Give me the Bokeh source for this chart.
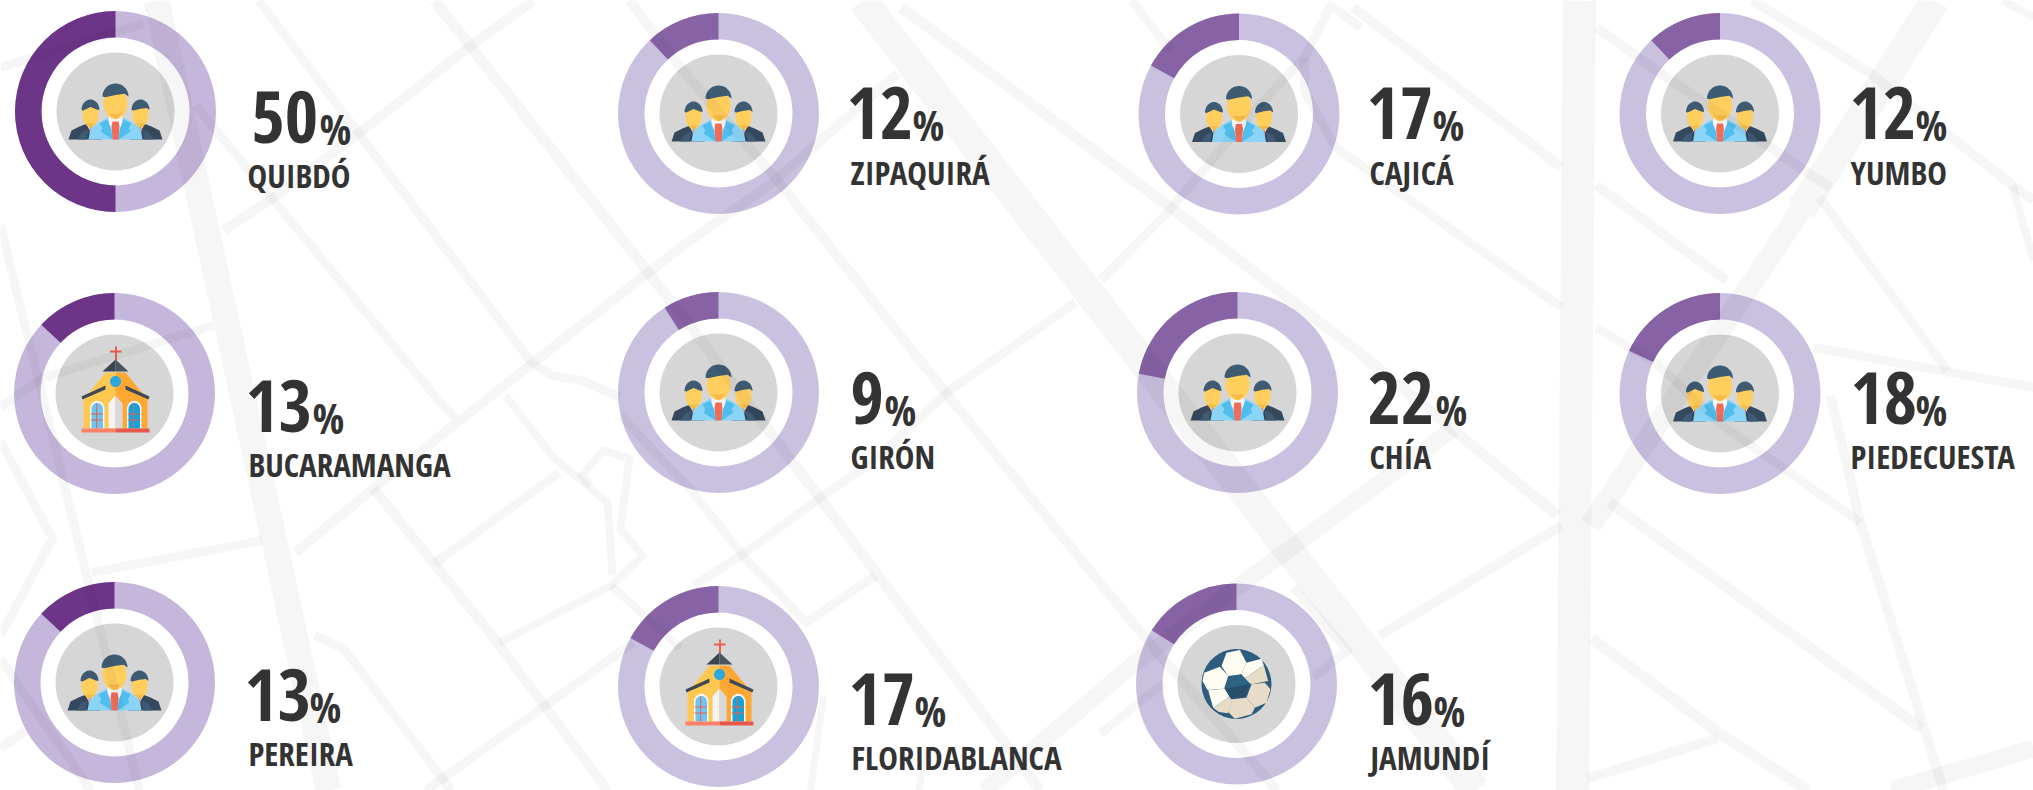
import numpy as np
from bokeh.plotting import figure
from bokeh.models import Range1d, ColumnDataSource
from bokeh.core.properties import value
from bokeh.embed import file_html
from bokeh.resources import INLINE

# ---------- chart values ----------
cities = ["QUIBDÓ", "ZIPAQUIRÁ", "CAJICÁ", "YUMBO", "BUCARAMANGA", "GIRÓN", "CHÍA",
          "PIEDECUESTA", "PEREIRA", "FLORIDABLANCA", "JAMUNDÍ"]
shares = [50, 12, 17, 12, 13, 9, 22, 18, 13, 17, 16]
icons = ["people", "people", "people", "people", "church", "people", "people",
         "people", "people", "church", "ball"]

# ---------- layout (page pixels) ----------
centers_x = [115, 718, 1238.5, 1719.5, 114, 718, 1237, 1719.5, 114, 718, 1236]
centers_y = [111, 113, 113.5, 113, 393, 392, 392, 393, 682, 686, 683.5]
num_x = [251, 846, 1366, 1849, 245, 850, 1367, 1850, 244, 848, 1367]
num_base = [144, 140, 140, 140, 433, 425, 425, 425, 722, 726, 726]
pct_x = [319, 912, 1432, 1915, 312, 884, 1435, 1915, 309, 914, 1433]
label_x = [247, 850, 1369, 1850, 248, 850, 1369, 1850, 248, 851, 1370]
label_base = [188, 185, 185, 185, 477, 469, 469, 469, 766, 770, 770]
dark = ["#6C3587" if x < 200 else "#8763A5" for x in centers_x]
light = ["#C5B6DB" if x < 200 else "#CAC0E0" for x in centers_x]

R_OUT, R_IN, R_GRAY = 100.5, 74, 59
W, H = 2033, 790
FONT = "Open Sans Condensed"
INK = "#333333"
BASE_SHIFT = 0.38  # the svg text sits this many ems below the requested baseline
NUM_SIZE, PCT_SIZE, LABEL_SIZE = 72, 42, 33


def Y(y):
    return H - np.asarray(y, dtype=float)


p = figure(width=W, height=H, output_backend="svg", toolbar_location=None,
           x_range=Range1d(0, W), y_range=Range1d(0, H),
           x_axis_type=None, y_axis_type=None, min_border=0, outline_line_color=None,
           background_fill_color="white", border_fill_color="white")
p.grid.visible = False

# ---------- donuts ----------
src = ColumnDataSource(dict(
    x=centers_x, y=list(Y(centers_y)),
    start=[np.pi / 2] * len(shares),
    end=[np.pi / 2 + 2 * np.pi * s / 100 for s in shares],
    dark=dark, light=light))
p.annulus(x="x", y="y", inner_radius=R_IN, outer_radius=R_OUT, fill_color="light",
          line_color=None, source=src)
p.annular_wedge(x="x", y="y", inner_radius=R_IN, outer_radius=R_OUT, start_angle="start",
                end_angle="end", fill_color="dark", line_color=None, source=src)
p.circle(x="x", y="y", radius=R_GRAY, fill_color="#D6D6D6", line_color=None, source=src)

# ---------- icons (decoration, offsets from each donut centre) ----------
shapes = []


def poly(cx, cy, pts, color):
    shapes.append(([cx + a for a, b in pts], [H - (cy + b) for a, b in pts], color))


def ell(cx, cy, ex, ey, rx, ry, color):
    t = np.linspace(0, 2 * np.pi, 40)[:-1]
    poly(cx, cy, list(zip(ex + rx * np.cos(t), ey + ry * np.sin(t))), color)


def cap(cx, cy, ex, ey, rx, ry, tilt, color):
    t = np.linspace(np.pi, np.pi * 2, 20)
    pts = [(ex + rx * np.cos(a), ey + ry * np.sin(a)) for a in t]
    pts += [(ex + rx * 0.7, ey - ry * .12 - tilt), (ex, ey - ry * .2 + tilt), (ex - rx * 0.8, ey + ry * .05)]
    poly(cx, cy, pts, color)


def arch(x0, x1, top, bot):
    m = (x0 + x1) / 2
    r = (x1 - x0) / 2
    t = np.linspace(np.pi, 0, 14)
    return [(x0, bot)] + [(m + r * np.cos(a), top + r - r * 1.1 * np.sin(a)) for a in t] + [(x1, bot)]


def person_side(cx, cy, s):
    poly(cx, cy, [(s * 47, 28), (s * 44, 19), (s * 36, 15), (s * 26, 11), (s * 18, 14), (s * 14, 28)], "#34495E")
    poly(cx, cy, [(s * 38, 28), (s * 34, 21), (s * 27, 18), (s * 29, 28)], "#405A73")
    poly(cx, cy, [(s * 30, 11), (s * 21, 11), (s * 18, 24), (s * 23, 24)], "#F4F4F4")
    poly(cx, cy, [(s * 26, 14), (s * 23, 15), (s * 24, 25), (s * 26, 20)], "#EF6C58")
    ell(cx, cy, s * 25, 3, 8, 12.5, "#FFCE5C")
    poly(cx, cy, [(s * 20, 12), (s * 30, 12), (s * 25, 17)], "#F5B945")
    cap(cx, cy, s * 25, -1.5, 9, 10.5, 0.8 * s, "#3F5B72")


def people(cx, cy):
    person_side(cx, cy, -1)
    person_side(cx, cy, 1)
    poly(cx, cy, [(-27, 28), (-25, 17), (-17, 11), (-8, 6), (8, 6), (17, 11), (25, 17), (27, 28)], "#8AD4F7")
    poly(cx, cy, [(-7, 4), (7, 4), (7, 20), (0, 27), (-7, 20)], "#F5F5F5")
    poly(cx, cy, [(8, 8), (16, 12), (13, 17), (15, 20), (3, 28), (4, 18)], "#4FBDEE")
    poly(cx, cy, [(-8, 8), (-16, 12), (-13, 17), (-15, 20), (-3, 28), (-4, 18)], "#4FBDEE")
    poly(cx, cy, [(-3, 10), (3, 10), (4, 15), (3, 28), (-3, 28), (-4, 15)], "#EF6C58")
    ell(cx, cy, 0, -8, 12, 15.5, "#FFCE5C")
    poly(cx, cy, [(-7, 2), (7, 2), (0, 8)], "#F5B945")
    cap(cx, cy, 0, -15, 13, 13, 1.2, "#3F5B72")


def church(cx, cy):
    red = "#E8604C"
    poly(cx, cy, [(0.5, -47), (2.5, -47), (2.5, -33), (0.5, -33)], red)
    poly(cx, cy, [(-4.5, -43), (7, -43), (7, -41), (-4.5, -41)], red)
    poly(cx, cy, [(-9, -21), (1, -21), (1, 35), (-31, 35), (-31, 6)], "#FFC850")
    poly(cx, cy, [(1, -21), (11, -21), (33, 6), (33, 35), (1, 35)], "#FFA733")
    poly(cx, cy, [(-12, -22), (1, -34), (1, -22)], "#3A4550")
    poly(cx, cy, [(1, -34), (14, -22), (1, -22)], "#4A545E")
    ell(cx, cy, 1, -12, 5.5, 5.5, "#2BA8E0")
    poly(cx, cy, [(-33, 3), (-9, -8), (-9, -4), (-32, 6)], "#3F4A55")
    poly(cx, cy, [(35, 3), (11, -8), (11, -4), (34, 6)], "#3F4A55")
    poly(cx, cy, arch(-24.5, -10, 8, 35), "#F6F6F6")
    poly(cx, cy, arch(-23, -11.5, 10, 35), "#6EC6F0")
    poly(cx, cy, arch(12.5, 27, 8, 35), "#F6F6F6")
    poly(cx, cy, arch(14, 25.5, 10, 35), "#0FA5DC")
    for a in (-17.8, 19.2):
        poly(cx, cy, [(a - .5, 10), (a + .5, 10), (a + .5, 35), (a - .5, 35)], red)
        for b in (20, 26):
            poly(cx, cy, [(a - 6, b), (a + 6, b), (a + 6, b + 1), (a - 6, b + 1)], red)
    poly(cx, cy, [(-6, 35), (-6, 10), (1, 2), (1, 35)], "#F3F3F3")
    poly(cx, cy, [(8, 35), (8, 10), (1, 2), (1, 35)], "#D9D9D9")
    poly(cx, cy, [(-33, 35), (1, 35), (1, 39), (-33, 39)], "#FF8268")
    poly(cx, cy, [(1, 35), (35, 35), (35, 39), (1, 39)], "#E8574A")


def ball(cx, cy):
    def z(pts):
        return [((a - 415) / 3, (b - 374) / 3) for a, b in pts]
    ell(cx, cy, 0, 0, 35, 35, "#2D5D7E")
    cream, tan = "#FFFDF2", "#E6DCC8"
    poly(cx, cy, z([(370, 320), (385, 280), (425, 272), (445, 310), (430, 345), (390, 350)]), cream)
    poly(cx, cy, z([(445, 310), (490, 298), (497, 318), (435, 360), (430, 345)]), cream)
    poly(cx, cy, z([(497, 318), (510, 365), (460, 375), (435, 360)]), tan)
    poly(cx, cy, z([(318, 340), (365, 322), (390, 350), (378, 388), (328, 392), (313, 365)]), cream)
    poly(cx, cy, z([(330, 393), (380, 388), (395, 412), (345, 445)]), cream)
    poly(cx, cy, z([(345, 445), (395, 412), (402, 422), (390, 462), (362, 458)]), tan)
    poly(cx, cy, z([(402, 420), (445, 415), (470, 445), (460, 465), (410, 478), (390, 458)]), tan)
    poly(cx, cy, z([(460, 375), (500, 370), (517, 390), (505, 430), (470, 445), (445, 415)]), tan)
    poly(cx, cy, z([(380, 385), (392, 355), (430, 345), (457, 375), (440, 412), (398, 418)]), "#2F6384")
    poly(cx, cy, z([(380, 388), (457, 375), (440, 412), (398, 418)]), "#264F6B")


draw = {"people": people, "church": church, "ball": ball}
for kind, cx, cy in zip(icons, centers_x, centers_y):
    draw[kind](cx, cy)
p.patches(xs=[s[0] for s in shapes], ys=[s[1] for s in shapes],
          fill_color=[s[2] for s in shapes], line_color=None)

# ---------- background street map, laid over everything like the original ----------
roads = [
    ([(156, 0), (328, 790)], 26),
    ([(862, 0), (1475, 790)], 30),
    ([(1579, 0), (1572, 790)], 33),
    ([(1935, 0), (1800, 210)], 30),
    ([(1800, 210), (1590, 525)], 22),
    ([(984, 790), (1135, 662), (1453, 428)], 17),
    ([(1891, 790), (2033, 748)], 18),
    ([(258, 0), (531, 362), (552, 375), (581, 380), (620, 397)], 9),
    ([(434, 0), (680, 313), (767, 428), (1040, 790)], 11),
    ([(629, 0), (680, 67), (777, 180), (945, 392), (1100, 583), (1157, 652), (1277, 790)], 10),
    ([(223, 230), (269, 200), (362, 130), (468, 47), (533, 0)], 10),
    ([(195, 105), (434, 395), (455, 418)], 9),
    ([(373, 488), (494, 638), (607, 790)], 10),
    ([(295, 552), (373, 488), (533, 362), (680, 247), (771, 183), (897, 73)], 10),
    ([(91, 572), (262, 540)], 9),
    ([(0, 67), (143, 23)], 9),
    ([(0, 407), (43, 377), (213, 325)], 9),
    ([(0, 225), (139, 790)], 9),
    ([(0, 441), (52, 538), (0, 635)], 9),
    ([(0, 658), (90, 790)], 9),
    ([(0, 748), (25, 730)], 9),
    ([(505, 395), (551, 455), (607, 502), (612, 575)], 8),
    ([(434, 563), (559, 472)], 9),
    ([(499, 642), (611, 585), (642, 555), (620, 528), (629, 458), (603, 450), (581, 475), (590, 485)], 8),
    ([(611, 585), (680, 648)], 8),
    ([(425, 790), (442, 778), (538, 710), (633, 642)], 9),
    ([(693, 585), (745, 552), (823, 495), (871, 462), (949, 390), (1075, 302)], 9),
    ([(1100, 280), (1166, 213), (1245, 120), (1304, 57), (1330, 5), (1360, 27)], 9),
    ([(1304, 57), (1304, 90), (1335, 147), (1561, 307)], 9),
    ([(1131, 0), (1170, 50)], 9),
    ([(1353, 7), (1561, 167)], 10),
    ([(901, 7), (1170, 207), (1360, 353), (1557, 515)], 11),
    ([(1379, 635), (1561, 525)], 10),
    ([(1609, 502), (1921, 728)], 11),
    ([(1596, 185), (1726, 280)], 10),
    ([(1596, 27), (1656, 70), (1804, 170), (1830, 187)], 10),
    ([(1752, 0), (1869, 72), (2012, 185), (2033, 200)], 10),
    ([(1819, 197), (1947, 370)], 9),
    ([(1813, 347), (2033, 387)], 9),
    ([(2012, 185), (2033, 260)], 8),
    ([(2003, 0), (2033, 17)], 8),
    ([(1596, 327), (1656, 363), (1722, 425), (1860, 522)], 9),
    ([(1830, 395), (1860, 522), (1943, 790)], 10),
    ([(1591, 638), (1722, 735), (1808, 790)], 11),
    ([(1587, 778), (1717, 738)], 10),
    ([(823, 695), (810, 790)], 7),
    ([(918, 790), (927, 748)], 7),
    ([(620, 415), (689, 488), (745, 558), (806, 622), (875, 575)], 9),
    ([(314, 635), (343, 648), (451, 790)], 9),
    ([(1100, 733), (1163, 683)], 9),
    ([(1293, 587), (1347, 650), (1313, 677)], 9),
]
p.multi_line(xs=[[a for a, b in r[0]] for r in roads],
             ys=[[H - b for a, b in r[0]] for r in roads],
             line_width=[r[1] for r in roads], line_color="black", line_alpha=0.035,
             line_cap="butt", line_join="miter")

# ---------- texts ----------
def base(ys, size):
    return list(Y(np.asarray(ys, dtype=float) - BASE_SHIFT * size))


p.text(x=num_x, y=base(num_base, NUM_SIZE), text=[str(s) for s in shares], text_font=value(FONT),
       text_font_style="bold", text_font_size=f"{NUM_SIZE}px", text_color=INK,
       text_align="left", text_baseline="alphabetic")
p.text(x=pct_x, y=base(num_base, PCT_SIZE), text=["%"] * len(shares), text_font=value(FONT),
       text_font_style="bold", text_font_size=f"{PCT_SIZE}px", text_color=INK,
       text_align="left", text_baseline="alphabetic")
p.text(x=label_x, y=base(label_base, LABEL_SIZE), text=cities, text_font=value(FONT),
       text_font_style="bold", text_font_size=f"{LABEL_SIZE}px", text_color=INK,
       text_align="left", text_baseline="alphabetic")

open("out.html", "w").write(file_html(p, INLINE))
